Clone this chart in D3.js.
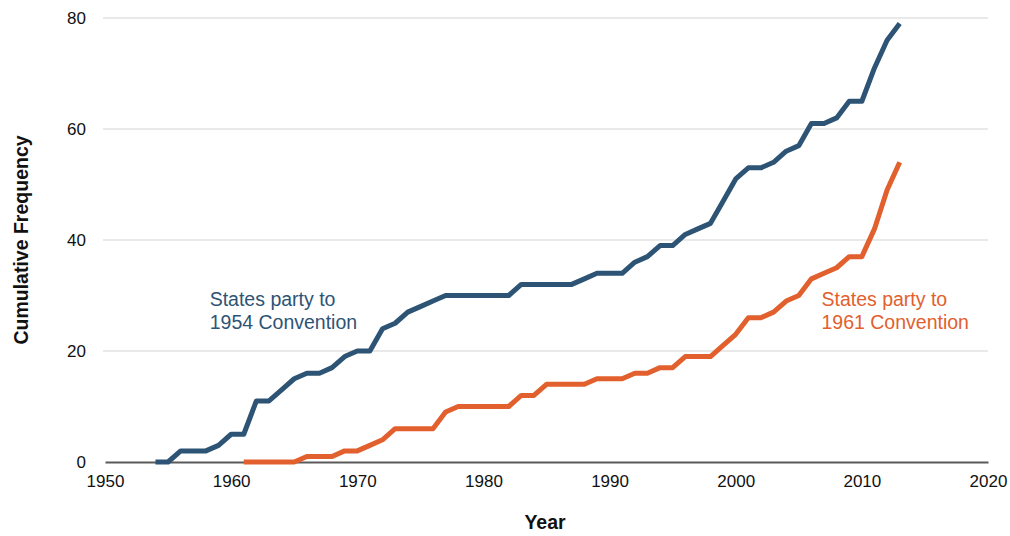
<!DOCTYPE html>
<html>
<head>
<meta charset="utf-8">
<script src="https://cdn.jsdelivr.net/npm/d3@7"></script>
<style>
  body { margin: 0; background: #fff; }
  svg { font-family: 'Liberation Sans', Arial, sans-serif; }
</style>
</head>
<body>
<div id="chart"></div>
<script>
// years and cumulative counts
var years_1954 = [1954,1955,1956,1957,1958,1959,1960,1961,1962,1963,1964,1965,1966,1967,1968,1969,1970,1971,1972,1973,1974,1975,1976,1977,1978,1979,1980,1981,1982,1983,1984,1985,1986,1987,1988,1989,1990,1991,1992,1993,1994,1995,1996,1997,1998,1999,2000,2001,2002,2003,2004,2005,2006,2007,2008,2009,2010,2011,2012,2013];
var counts_1954 = [0,0,2,2,2,3,5,5,11,11,13,15,16,16,17,19,20,20,24,25,27,28,29,30,30,30,30,30,30,32,32,32,32,32,33,34,34,34,36,37,39,39,41,42,43,47,51,53,53,54,56,57,61,61,62,65,65,71,76,79];

var years_1961 = [1961,1962,1963,1964,1965,1966,1967,1968,1969,1970,1971,1972,1973,1974,1975,1976,1977,1978,1979,1980,1981,1982,1983,1984,1985,1986,1987,1988,1989,1990,1991,1992,1993,1994,1995,1996,1997,1998,1999,2000,2001,2002,2003,2004,2005,2006,2007,2008,2009,2010,2011,2012,2013];
var counts_1961 = [0,0,0,0,0,1,1,1,2,2,3,4,6,6,6,6,9,10,10,10,10,10,12,12,14,14,14,14,15,15,15,16,16,17,17,19,19,19,21,23,26,26,27,29,30,33,34,35,37,37,42,49,54];

var x_ticks = [1950,1960,1970,1980,1990,2000,2010,2020];
var y_ticks = [0,20,40,60,80];

var series = [
  { name: '1954', years: years_1954, counts: counts_1954, color: '#2e5475', label: ['States party to', '1954 Convention'], lx: 1958.3, ly: 28.1 },
  { name: '1961', years: years_1961, counts: counts_1961, color: '#e2602e', label: ['States party to', '1961 Convention'], lx: 2006.8, ly: 28.1 }
];

var width = 1010, height = 536;
var margin = { left: 105, right: 22, top: 18, bottom: 74 };

var svg = d3.select('#chart')
  .append('svg')
  .attr('width', width)
  .attr('height', height);

var x = d3.scaleLinear()
  .domain([1950, 2020])
  .range([margin.left, width - margin.right]);

var y = d3.scaleLinear()
  .domain([0, 80])
  .range([height - margin.bottom, margin.top]);

// gridlines
svg.append('g')
  .attr('class', 'grid')
  .selectAll('line')
  .data(y_ticks.filter(d => d > 0))
  .enter()
  .append('line')
  .attr('x1', x(1950) - 2)
  .attr('x2', x(2020))
  .attr('y1', d => y(d))
  .attr('y2', d => y(d))
  .attr('stroke', '#e9e9e9')
  .attr('stroke-width', 2);

// y axis labels
var y_axis = d3.axisLeft(y).tickValues(y_ticks).tickSize(0).tickPadding(19);
svg.append('g')
  .attr('transform', 'translate(' + x(1950) + ',0)')
  .call(y_axis)
  .call(g => g.select('.domain').remove())
  .selectAll('text')
  .attr('font-size', '17px')
  .attr('font-family', "'Liberation Sans', Arial, sans-serif")
  .attr('fill', '#111');

// x axis
var x_axis = d3.axisBottom(x).tickValues(x_ticks).tickFormat(d3.format('d')).tickSize(0).tickPadding(13);
svg.append('g')
  .attr('transform', 'translate(0,' + y(0) + ')')
  .call(x_axis)
  .call(g => g.select('.domain').attr('stroke', '#5a5a5a').attr('stroke-width', 2))
  .selectAll('text')
  .attr('font-size', '17px')
  .attr('font-family', "'Liberation Sans', Arial, sans-serif")
  .attr('fill', '#111');

var line = d3.line()
  .x(d => x(d[0]))
  .y(d => y(d[1]));

series.forEach(function(s) {
  var pts = s.years.map((yr, i) => [yr, s.counts[i]]);
  svg.append('path')
    .datum(pts)
    .attr('d', line)
    .attr('fill', 'none')
    .attr('stroke', s.color)
    .attr('stroke-width', 5)
    .attr('stroke-linejoin', 'round');

  var t = svg.append('text')
    .attr('x', x(s.lx))
    .attr('y', y(s.ly))
    .attr('fill', s.color)
    .attr('font-size', '19.5px');
  t.selectAll('tspan')
    .data(s.label)
    .enter()
    .append('tspan')
    .attr('x', x(s.lx))
    .attr('dy', (d, i) => i === 0 ? 0 : 23)
    .text(d => d);
});

// axis titles
svg.append('text')
  .attr('x', 545)
  .attr('y', 529)
  .attr('text-anchor', 'middle')
  .attr('font-weight', 'bold')
  .attr('font-size', '19.5px')
  .attr('fill', '#111')
  .text('Year');

svg.append('text')
  .attr('transform', 'translate(28,' + y(40) + ') rotate(-90)')
  .attr('text-anchor', 'middle')
  .attr('font-weight', 'bold')
  .attr('font-size', '19.5px')
  .attr('fill', '#111')
  .text('Cumulative Frequency');
</script>
</body>
</html>
